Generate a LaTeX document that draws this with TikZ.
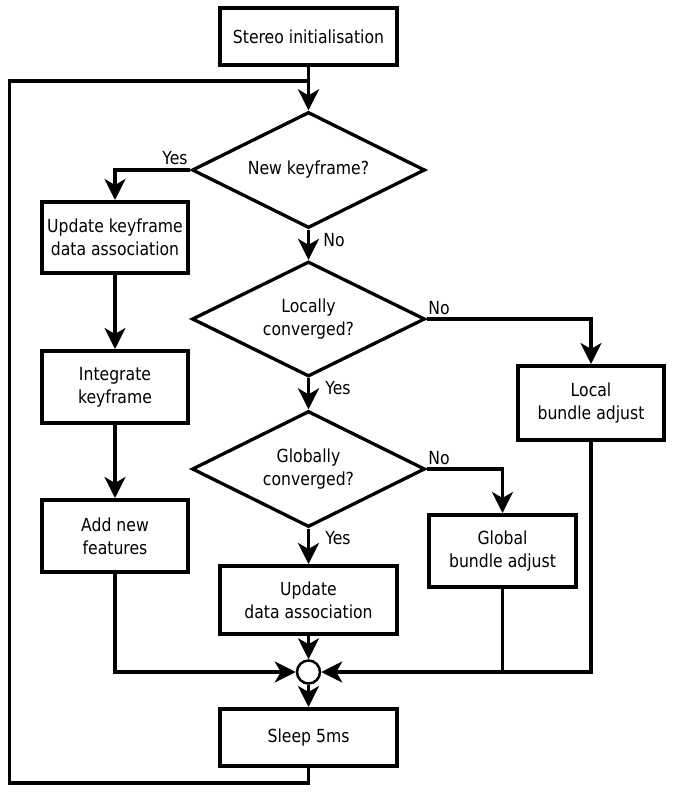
\documentclass[tikz,border=0pt]{standalone}
\usepackage{fontspec}
\setmainfont{DejaVu Sans}[FakeStretch=0.87]
\usetikzlibrary{arrows.meta,shapes.geometric}
\newcommand\dfont{\fontsize{18}{23}\selectfont}
\begin{document}
\begin{tikzpicture}[x=1pt,y=-1pt, line width=3.3pt,
  box/.style={draw, rectangle, line width=4pt, align=center, font=\dfont, inner sep=2pt},
  dec/.style={draw, diamond, aspect=2, align=center, font=\dfont, inner sep=0pt, minimum width=233pt, minimum height=116pt},
  arr/.style={-{Stealth[length=21pt,width=21pt,inset=6pt]}},
  lbl/.style={font=\dfont, inner sep=0pt}]
\useasboundingbox (0,0) rectangle (676,795);
% nodes
\node[box, minimum width=177pt, minimum height=57pt] (stereo) at (308.5,36.5) {Stereo initialisation};
\node[dec] (ndk) at (308.5,170) {New keyframe?};
\node[dec, minimum height=115pt] (loc) at (308.5,319) {Locally\\converged?};
\node[dec] (glob) at (308.5,469) {Globally\\converged?};
\node[box, minimum width=146pt, minimum height=71pt] (ukf) at (115,237.5) {Update keyframe\\data association};
\node[box, minimum width=146pt, minimum height=72pt] (integ) at (115,387) {Integrate\\keyframe};
\node[box, minimum width=146pt, minimum height=72pt] (addnew) at (115,536) {Add new\\features};
\node[box, minimum width=146pt, minimum height=74pt] (local) at (591,403) {Local\\bundle adjust};
\node[box, minimum width=147pt, minimum height=72pt] (global) at (502.5,551) {Global\\bundle adjust};
\node[box, minimum width=177pt, minimum height=68pt] (uda) at (308.5,600) {Update\\data association};
\node[draw, circle, line width=2.5pt, minimum size=23pt, inner sep=0pt] (circ) at (308.5,672) {};
\node[box, minimum width=177pt, minimum height=57pt] (sleep) at (308.5,737.5) {Sleep 5ms};
% loop coordinates
\coordinate (join) at (308.5,81);
\coordinate (loopbl) at (9.5,783);
\coordinate (looptl) at (9.5,81);
% connectors
\draw[arr] (stereo.south) -- (ndk.north);
\draw (sleep.south) |- (loopbl) -- (looptl) -- (join);
\draw[arr] (ndk.west) -| (ukf.north);
\draw[arr] (ukf) -- (integ);
\draw[arr] (integ) -- (addnew);
\draw[arr] (ndk.south) -- (loc.north);
\draw[arr] (loc.east) -| (local.north);
\draw[arr] (loc.south) -- (glob.north);
\draw[arr] (glob.east) -| (global.north);
\draw[arr] (glob.south) -- (uda.north);
\draw[arr] (uda.south) -- (circ.north);
\draw[arr] (addnew.south) |- (circ.west);
\draw[arr] (local.south) |- (circ.east);
\draw (global.south) -- (global.south |- circ);
\draw[arr] (circ.south) -- (sleep.north);
% labels
\node[lbl] (lyes1) at (175,158) {Yes};
\node[lbl] (lno1) at (334,240) {No};
\node[lbl] (lno2) at (439,308) {No};
\node[lbl] (lyes2) at (338,388) {Yes};
\node[lbl] (lno3) at (439,458) {No};
\node[lbl] (lyes3) at (338,538) {Yes};
\end{tikzpicture}
\end{document}
